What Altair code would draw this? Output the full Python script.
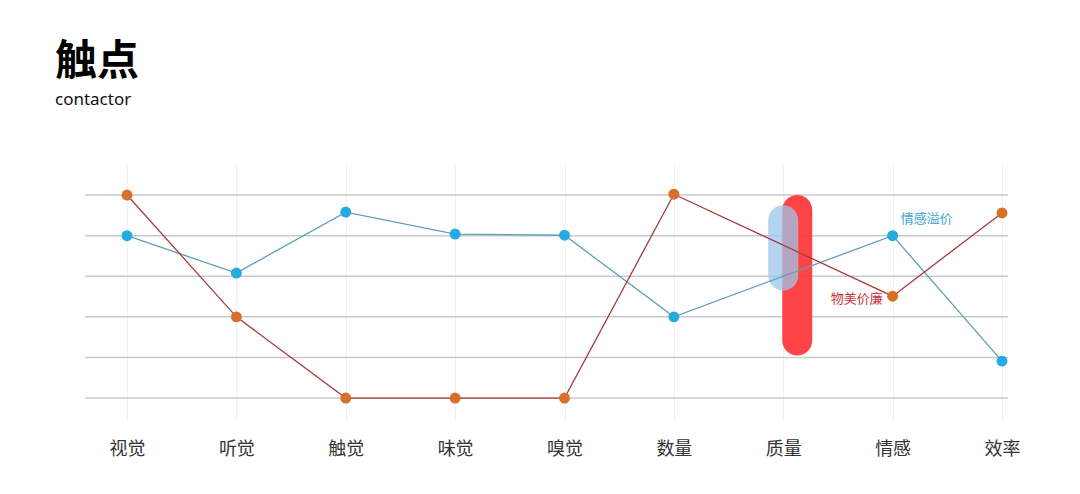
import altair as alt
import pandas as pd

categories = ["视觉", "听觉", "触觉", "味觉", "嗅觉", "数量", "质量", "情感", "效率"]
blue_values = [4.0, 3.08, 4.58, 4.04, 4.01, 2.0, None, 4.0, 0.91]
orange_values = [5.0, 2.0, 0.0, 0.0, 0.0, 5.02, None, 2.51, 4.56]
series_names = ["情感溢价", "物美价廉"]
grid_values = [0, 1, 2, 3, 4, 5]

# highlight bars at 质量
hl_category = ["质量", "质量"]
hl_top = [5.0, 4.75]
hl_bottom = [1.05, 2.65]
hl_name = ["red", "blue"]

# annotations
ann_text = ["情感溢价", "物美价廉"]
ann_category = ["情感", "情感"]
ann_value = [4.0, 2.51]

blue_df = pd.DataFrame({"cat": categories, "value": blue_values}).dropna()
orange_df = pd.DataFrame({"cat": categories, "value": orange_values}).dropna()
grid_df = pd.DataFrame({"value": grid_values})
hl_df = pd.DataFrame({"cat": hl_category, "top": hl_top, "bottom": hl_bottom, "name": hl_name})
ann_df = pd.DataFrame({"cat": ann_category, "value": ann_value, "text": ann_text})

xscale = alt.Scale(type="point", domain=categories, range=[42, 917], padding=0)
yscale = alt.Scale(domain=[-0.54, 5.74], nice=False, zero=False)

x_axis = alt.Axis(title=None, grid=True, gridColor="#f0f0f0", gridWidth=1,
                  domain=False, ticks=False, labelAngle=0,
                  labelFont="Noto Sans CJK SC", labelFontSize=18,
                  labelColor="#333333", labelPadding=20, labelFontWeight="normal")
X = alt.X("cat:N", scale=xscale, sort=categories, axis=x_axis)
Xn = alt.X("cat:N", scale=xscale, sort=categories)
Y = alt.Y("value:Q", scale=yscale, axis=None)

grid = alt.Chart(grid_df).mark_rule(color="#c9c9c9", strokeWidth=1.5).encode(
    y=alt.Y("value:Q", scale=yscale, axis=None)
)

red_bar = alt.Chart(hl_df).transform_filter(alt.datum.name == "red").mark_bar(
    width=30, cornerRadius=15, color="#ff3a3e", opacity=0.95, xOffset=14
).encode(x=X, y=alt.Y("top:Q", scale=yscale, axis=None), y2="bottom:Q")

blue_bar = alt.Chart(hl_df).transform_filter(alt.datum.name == "blue").mark_bar(
    width=30, cornerRadius=15, color="#9cc6ea", opacity=0.75, xOffset=0
).encode(x=Xn, y=alt.Y("top:Q", scale=yscale, axis=None), y2="bottom:Q")

blue_line = alt.Chart(blue_df).mark_line(strokeWidth=1.3, color="#5d9fb6").encode(x=Xn, y=Y)
orange_line = alt.Chart(orange_df).mark_line(strokeWidth=1.3, color="#a53d3d").encode(x=Xn, y=Y)
blue_pts = alt.Chart(blue_df).mark_circle(size=120, opacity=1, color="#27aae1").encode(x=Xn, y=Y)
orange_pts = alt.Chart(orange_df).mark_circle(size=120, opacity=1, color="#d9702a").encode(x=Xn, y=Y)

ann_blue = alt.Chart(ann_df).transform_filter(alt.datum.text == "情感溢价").mark_text(
    font="Noto Sans CJK SC", fontSize=13, color="#3aa6d6", dx=34, dy=-17
).encode(x=Xn, y=Y, text="text:N")

ann_red = alt.Chart(ann_df).transform_filter(alt.datum.text == "物美价廉").mark_text(
    font="Noto Sans CJK SC", fontSize=13, color="#c9303a", dx=-36, dy=3
).encode(x=Xn, y=Y, text="text:N")

chart = alt.layer(
    grid, red_bar, blue_bar, blue_line, orange_line, blue_pts, orange_pts, ann_blue, ann_red
).properties(
    width=923, height=255,
    background="white",
    title=alt.TitleParams(text="触点", subtitle="contactor", anchor="start", frame="group",
                          font="Noto Sans CJK SC", fontSize=42, fontWeight="bold", color="#000000",
                          subtitleFont="Noto Sans", subtitleFontSize=17, subtitleColor="#111111",
                          subtitlePadding=8, dx=-30, offset=56),
    autosize=alt.AutoSizeParams(type="none"),
    padding={"left": 77, "top": 157, "right": 60, "bottom": 60},
).configure_view(strokeWidth=0)

chart.save("out.html", embed_options={"renderer": "svg", "actions": False})
